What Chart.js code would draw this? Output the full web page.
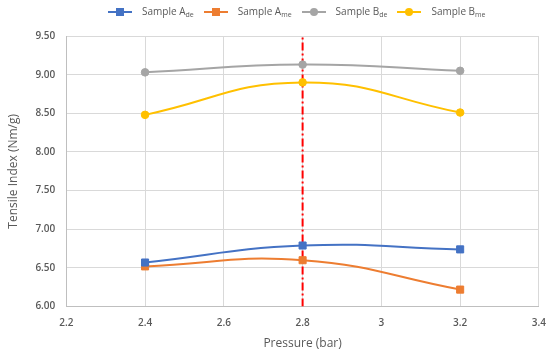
<!DOCTYPE html>
<html>
<head>
<meta charset="utf-8">
<script src="https://cdn.jsdelivr.net/npm/chart.js@4"></script>
<style>
  html, body { margin: 0; padding: 0; background: #fff; }
  #wrap { position: relative; width: 550px; height: 354px; }
  #legend {
    position: absolute; top: 4px; left: 108px;
    display: flex; font-family: "Open Sans", sans-serif; font-size: 10px; color: #595959;
  }
  .item { display: flex; align-items: center; margin-right: 10px; }
  .key { position: relative; width: 24px; height: 12px; margin-right: 10px; }
  .key .ln { position: absolute; left: 0; right: 0; top: 5px; height: 2px; }
  .key .mk { position: absolute; left: 8px; top: 2px; width: 8px; height: 8px; }
  .key .mk.c { border-radius: 50%; }
  sub { font-size: 7px; vertical-align: -2px; }
</style>
</head>
<body>
<div id="wrap">
  <div id="legend"></div>
  <canvas id="c" width="550" height="354"></canvas>
</div>
<script>
// x values (bar)
const pressure = [2.4, 2.8, 3.2];

// tensile index (Nm/g)
const sampleAde = [6.57, 6.79, 6.74];
const sampleAme = [6.52, 6.60, 6.22];
const sampleBde = [9.03, 9.13, 9.05];
const sampleBme = [8.48, 8.90, 8.51];

// vertical marker line
const markerX = 2.8;
const yRange = [6.0, 9.5];

const series = [
    { name: 'Sample A', sub: 'de', data: sampleAde, color: '#4472C4', shape: 'rect' },
    { name: 'Sample A', sub: 'me', data: sampleAme, color: '#ED7D31', shape: 'rect' },
    { name: 'Sample B', sub: 'de', data: sampleBde, color: '#A5A5A5', shape: 'circle' },
    { name: 'Sample B', sub: 'me', data: sampleBme, color: '#FFC000', shape: 'circle' }
];

// html legend (subscripts)
const legend = document.getElementById('legend');
series.forEach(s => {
    const el = document.createElement('div');
    el.className = 'item';
    el.innerHTML =
        '<span class="key"><span class="ln" style="background:' + s.color + '"></span>' +
        '<span class="mk' + (s.shape === 'circle' ? ' c' : '') + '" style="background:' + s.color + '"></span></span>' +
        '<span>' + s.name + '<sub>' + s.sub + '</sub></span>';
    legend.appendChild(el);
});

const datasets = series.map(s => ({
    label: s.name + ' ' + s.sub,
    data: pressure.map((x, i) => ({ x: x, y: s.data[i] })),
    borderColor: s.color,
    backgroundColor: s.color,
    borderWidth: 2,
    pointBorderWidth: 1,
    pointStyle: s.shape,
    pointRadius: s.shape === 'rect' ? 5 : 3.8,
    tension: 0.45
}));

datasets.push({
    label: 'marker',
    data: [{ x: markerX, y: yRange[0] }, { x: markerX, y: yRange[1] }],
    borderColor: '#FF0000',
    borderWidth: 2,
    borderDash: [8, 3, 2, 3],
    pointRadius: 0,
    tension: 0
});

const tickFont = { family: '"Open Sans", sans-serif', size: 10, weight: '600' };
const titleFont = { family: '"Open Sans", sans-serif', size: 12 };

new Chart(document.getElementById('c'), {
    type: 'line',
    data: { datasets },
    options: {
        responsive: false,
        animation: false,
        layout: { padding: { top: 36, right: 2, left: 2, bottom: 0 } },
        plugins: { legend: { display: false }, tooltip: { enabled: false } },
        scales: {
            x: {
                type: 'linear',
                min: 2.2, max: 3.4,
                ticks: {
                    stepSize: 0.2,
                    color: '#595959',
                    font: tickFont,
                    padding: 4,
                    callback: v => String(Number(v.toFixed(1)))
                },
                // invisible tick marks just push the labels down
                grid: { color: '#D9D9D9', drawTicks: true, tickLength: 7, tickColor: 'rgba(0,0,0,0)' },
                border: { color: '#BFBFBF' },
                title: { display: true, text: 'Pressure (bar)', color: '#595959', font: titleFont, padding: { top: 3, bottom: 3 } }
            },
            y: {
                min: yRange[0], max: yRange[1],
                ticks: {
                    stepSize: 0.5,
                    color: '#595959',
                    font: tickFont,
                    padding: 11,
                    callback: v => v.toFixed(2)
                },
                grid: { color: '#D9D9D9', drawTicks: false },
                border: { color: '#BFBFBF' },
                title: { display: true, text: 'Tensile Index (Nm/g)', color: '#595959', font: titleFont }
            }
        }
    }
});
</script>
</body>
</html>
